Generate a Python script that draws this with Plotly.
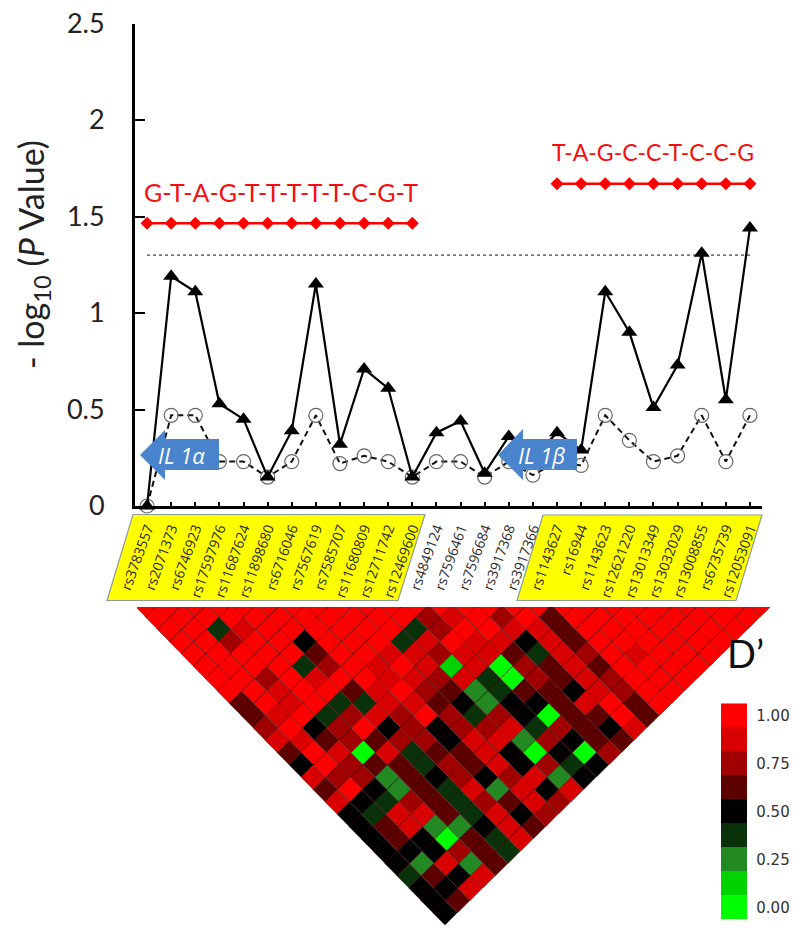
import plotly.graph_objects as go

W, H = 800, 932

snps = ["rs3783557", "rs2071373", "rs6746923", "rs17597976", "rs11687624", "rs11898680",
        "rs6716046", "rs7567619", "rs7585707", "rs11680809", "rs12711742", "rs12469600",
        "rs4849124", "rs7596461", "rs7596684", "rs3917368", "rs3917366", "rs1143627",
        "rs16944", "rs1143623", "rs12621220", "rs13013349", "rs13032029", "rs13008855",
        "rs6735739", "rs12053091"]

p_snp = [0.0, 1.19, 1.11, 0.53, 0.45, 0.15, 0.39, 1.15, 0.32, 0.71, 0.61, 0.15, 0.38,
         0.44, 0.17, 0.36, 0.25, 0.38, 0.29, 1.11, 0.90, 0.51, 0.73, 1.31, 0.55, 1.44]
p_perm = [0.0, 0.47, 0.47, 0.23, 0.23, 0.15, 0.23, 0.47, 0.22, 0.26, 0.23, 0.15, 0.23,
          0.23, 0.15, 0.23, 0.16, 0.23, 0.21, 0.47, 0.34, 0.23, 0.26, 0.47, 0.23, 0.47]
threshold = 1.3
hap_left_value = 1.465
hap_right_value = 1.67
hap_left_text = "G-T-A-G-T-T-T-T-T-C-G-T"
hap_right_text = "T-A-G-C-C-T-C-C-G"

# D' class of each LD cell (0 = 0.00 ... 8 = 1.00), one string per row from the top
ld_rows = [
    "88888888888888888888888888",
    "88888888888678685" + "88888888",
    "88378888883688775" + "8888888",
    "88688488837877475888888",
    "8888858877677537687888",
    "888836878717065758888",
    "88687887767306576888",
    "8878857865235547688",
    "587833775424457858",
    "57836768636405585",
    "6846846466736547",
    "775656647726455",
    "58707355740406",
    "4865536574634",
    "766254646724",
    "58425372747",
    "7436536576",
    "437753746",
    "45722475",
    "4540537",
    "444653",
    "42725",
    "3547",
    "447",
    "45",
    "4",
]
ld_colors = ["#00ff00", "#00d400", "#238a23", "#0a320a", "#000000",
             "#5c0000", "#a00000", "#d80000", "#ff0000"]
legend_ticks = ["0.00", "0.25", "0.50", "0.75", "1.00"]


def px(x):
    return x / W


def py(y):
    return 1 - y / H


def path(points):
    return "M" + " L".join(f"{px(x):.5f},{py(y):.5f}" for x, y in points) + " Z"


fig = go.Figure()

fig.add_trace(go.Scatter(x=[0, 25], y=[threshold, threshold], mode="lines",
                         line=dict(color="#111111", width=1, dash="dot"), hoverinfo="skip"))
fig.add_trace(go.Scatter(x=list(range(0, 12)), y=[hap_left_value] * 12, mode="lines+markers",
                         line=dict(color="#ff0000", width=2.5),
                         marker=dict(symbol="diamond", size=10, color="#ff0000"), cliponaxis=False))
fig.add_trace(go.Scatter(x=list(range(17, 26)), y=[hap_right_value] * 9, mode="lines+markers",
                         line=dict(color="#ff0000", width=2.5),
                         marker=dict(symbol="diamond", size=10, color="#ff0000"), cliponaxis=False))
fig.add_trace(go.Scatter(x=list(range(26)), y=p_perm, mode="lines+markers",
                         line=dict(color="#111111", width=2, dash="6px,4px"),
                         marker=dict(symbol="circle-open", size=14, color="#666666", line=dict(width=1.2, color="#666666")),
                         cliponaxis=False))
fig.add_trace(go.Scatter(x=list(range(26)), y=p_snp, mode="lines+markers",
                         line=dict(color="#000000", width=2.2),
                         marker=dict(symbol="triangle-up", size=14, color="#000000"),
                         cliponaxis=False))

for level, colour in enumerate(ld_colors):
    xs, ys = [], []
    for r, row in enumerate(ld_rows):
        for q, code in enumerate(row):
            if int(code) != level:
                continue
            cx = q + 0.487 * r
            xs += [cx - 0.5, cx, cx + 0.5, cx, cx - 0.5, None]
            ys += [r, r - 1, r, r + 1, r, None]
    if xs:
        fig.add_trace(go.Scatter(x=xs, y=ys, xaxis="x2", yaxis="y2", mode="lines", fill="toself",
                                 fillcolor=colour, line=dict(color="rgba(60,0,0,0.4)", width=1),
                                 hoverinfo="skip"))

fig.add_trace(go.Heatmap(z=[[i] for i in range(9)], x=[0], y=list(range(9)), xaxis="x3", yaxis="y3",
                         colorscale=[[i / 8, c] for i, c in enumerate(ld_colors)], zmin=0, zmax=8,
                         showscale=False, hoverinfo="skip"))

pitch = 24.6
row_h = 12.33
fig.update_layout(
    width=W, height=H, margin=dict(l=0, r=0, t=0, b=0, autoexpand=False), showlegend=False,
    paper_bgcolor="white", plot_bgcolor="rgba(0,0,0,0)",
    font=dict(family="Lato", color="#222222"),
    xaxis=dict(domain=[px(135), px(762)], range=[-0.5, 25.5], anchor="y", showgrid=False, zeroline=False,
               showline=True, linecolor="black", linewidth=2.5,
               tickmode="array", tickvals=list(range(26)), ticktext=snps, tickangle=-70,
               ticks="inside", ticklen=4, tickwidth=1.5, tickcolor="black", ticklabelstandoff=6,
               tickfont=dict(family="Open Sans", size=14, color="#2a2a2a")),
    yaxis=dict(domain=[py(506), py(23.5)], range=[0, 2.5], anchor="x", showgrid=False, zeroline=False,
               showline=True, linecolor="black", linewidth=3,
               tickmode="array", tickvals=[0, 0.5, 1, 1.5, 2, 2.5], ticktext=["0", "0.5", "1", "1.5", "2", "2.5"],
               ticks="inside", ticklen=10, tickwidth=2, tickcolor="black", ticklabelstandoff=22,
               tickfont=dict(family="Lato", size=27, color="#222222")),
    xaxis2=dict(domain=[px(137), px(776)], range=[(137 - 145.5) / pitch, (776 - 145.5) / pitch],
                anchor="y2", visible=False),
    yaxis2=dict(domain=[py(932), py(607)], range=[(932 - 604.5) / row_h, (607 - 604.5) / row_h],
                anchor="x2", visible=False),
    xaxis3=dict(domain=[px(721), px(747.3)], anchor="y3", visible=False, range=[-0.5, 0.5]),
    yaxis3=dict(domain=[py(919.3), py(703.3)], anchor="x3", side="right", range=[-0.5, 8.5],
                tickmode="array", tickvals=[0, 2, 4, 6, 8], ticktext=legend_ticks, showgrid=False,
                zeroline=False, showline=False, ticks="", ticklabelstandoff=8,
                tickfont=dict(family="DejaVu Sans", size=15, color="#333333")),
    shapes=[
        dict(type="path", xref="paper", yref="paper", layer="below",
             path=path([(133, 514.5), (425, 514.5), (398, 600.5), (107, 600.5)]),
             fillcolor="#ffff00", line=dict(color="#8c9c96", width=1.2)),
        dict(type="path", xref="paper", yref="paper", layer="below",
             path=path([(543, 515), (762, 515), (736, 600.5), (517, 600.5)]),
             fillcolor="#ffff00", line=dict(color="#8c9c96", width=1.2)),
        dict(type="path", xref="paper", yref="paper", layer="above",
             path=path([(140, 455), (165, 430), (165, 439), (219, 439), (219, 470), (165, 470), (165, 480)]),
             fillcolor="#4a84cc", line=dict(width=0)),
        dict(type="path", xref="paper", yref="paper", layer="above",
             path=path([(498, 455), (523, 429), (523, 439), (577, 439), (577, 470), (523, 470), (523, 480)]),
             fillcolor="#4a84cc", line=dict(width=0)),
    ],
    annotations=[
        dict(x=5.55, y=1.627, xref="x", yref="y", text=hap_left_text, showarrow=False,
             font=dict(family="Lato", size=25, color="#f01010")),
        dict(x=21.0, y=1.834, xref="x", yref="y", text=hap_right_text, showarrow=False,
             font=dict(family="Lato", size=23, color="#f01010")),
        dict(x=px(181), y=py(455), xref="paper", yref="paper", xanchor="center", text="<i>IL 1α</i>",
             showarrow=False, font=dict(family="Open Sans", size=22, color="white")),
        dict(x=px(541), y=py(455), xref="paper", yref="paper", xanchor="center", text="<i>IL 1β</i>",
             showarrow=False, font=dict(family="Open Sans", size=22, color="white")),
        dict(x=px(745), y=py(678), xref="paper", yref="paper", xanchor="center", text="D’",
             showarrow=False, font=dict(family="Lato", size=38, color="#111111")),
        dict(x=px(33), y=py(255), xref="paper", yref="paper", xanchor="center", yanchor="middle", textangle=-90,
             text="- log<sub>10</sub> (<i>P</i> Value)", showarrow=False,
             font=dict(family="Lato", size=34, color="#222222")),
    ],
)

fig.write_html("out.html", post_script="document.body.style.margin='0';",
               config={"displayModeBar": False})
